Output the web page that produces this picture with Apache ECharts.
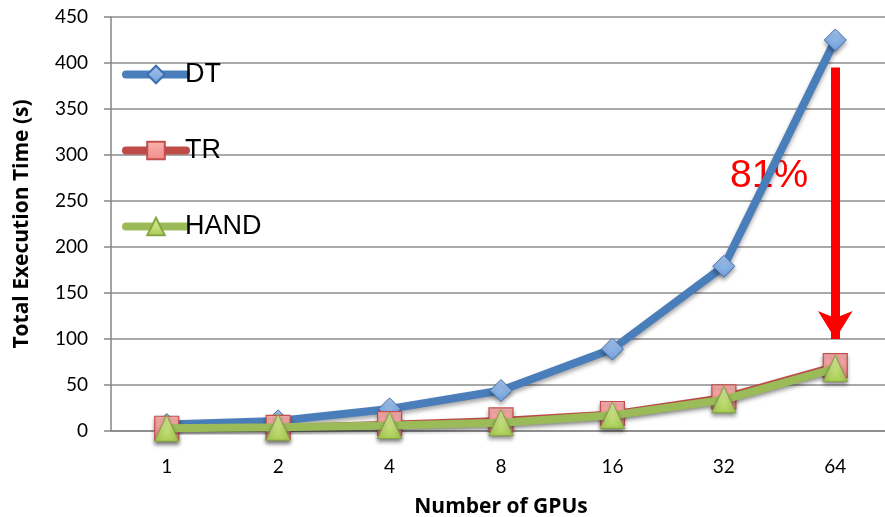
<!DOCTYPE html>
<html>
<head>
<meta charset="utf-8">
<script src="https://cdn.jsdelivr.net/npm/echarts@6/dist/echarts.min.js"></script>
<style>
  html, body { margin: 0; padding: 0; background: #fff; }
  #chart { width: 885px; height: 517px; }
</style>
</head>
<body>
<div id="chart"></div>
<script>
// GPU counts on the x axis
const gpus = ['1', '2', '4', '8', '16', '32', '64'];
// Total execution time in seconds for each strategy
const dtTimes = [7, 11, 24, 44, 89, 179, 425];
const trTimes = [3, 4, 8, 12, 19, 37, 71];
const handTimes = [3, 4, 6, 9, 17, 34, 68];
// Speed-up annotation at 64 GPUs
const gainLabel = '81%';
const arrowFrom = 395;
const arrowTo = 100;

const tickFont = 'Lato, "Open Sans", sans-serif';
const titleFont = '"Open Sans", Lato, sans-serif';
const shadow = { shadowColor: 'rgba(0,0,0,0.35)', shadowBlur: 4, shadowOffsetY: 3 };

const chart = echarts.init(document.getElementById('chart'));
chart.setOption({
  animation: false,
  grid: { left: 111, right: -6, top: 17, bottom: 86, outerBoundsMode: 'none', containLabel: false },
  legend: {
    orient: 'vertical',
    left: 117,
    top: 56,
    itemWidth: 60,
    itemHeight: 22,
    itemGap: 49,
    lineStyle: { width: 8, cap: 'round' },
    textStyle: { fontFamily: '"Liberation Sans", Arial, sans-serif', fontSize: 27, color: '#000', padding: [0, 0, 0, -6] },
    data: ['DT', 'TR', 'HAND']
  },
  xAxis: {
    type: 'category',
    data: gpus,
    boundaryGap: true,
    name: 'Number of GPUs',
    nameLocation: 'middle',
    nameGap: 66,
    nameTextStyle: { fontFamily: titleFont, fontWeight: 'bold', fontSize: 21, color: '#000' },
    axisLine: { lineStyle: { color: '#868686', width: 1.5 } },
    axisTick: { length: 7, lineStyle: { color: '#868686', width: 1.5 } },
    axisLabel: { margin: 26, fontFamily: tickFont, fontSize: 19, color: '#000' }
  },
  yAxis: {
    type: 'value',
    min: 0,
    max: 450,
    interval: 50,
    name: 'Total Execution Time (s)',
    nameLocation: 'middle',
    nameGap: 78,
    nameTextStyle: { fontFamily: titleFont, fontWeight: 'bold', fontSize: 21, color: '#000' },
    axisLine: { show: true, lineStyle: { color: '#868686', width: 1.5 } },
    axisTick: { show: true, length: 7, lineStyle: { color: '#868686', width: 1.5 } },
    splitLine: { lineStyle: { color: '#8c8c8c', width: 1.5 } },
    axisLabel: { margin: 23, fontFamily: tickFont, fontSize: 19, color: '#000' }
  },
  series: [
    {
      name: 'DT',
      type: 'line',
      data: dtTimes,
      symbol: 'diamond',
      symbolSize: 22,
      z: 3,
      lineStyle: Object.assign({ color: '#4a7ebb', width: 8, cap: 'round' }, shadow),
      itemStyle: Object.assign({
        color: new echarts.graphic.LinearGradient(0, 0, 0, 1, [
          { offset: 0, color: '#a7c6ee' },
          { offset: 1, color: '#6f9fdb' }
        ]),
        borderColor: '#3f6fb0',
        borderWidth: 1
      }, shadow),
      markLine: {
        silent: true,
        symbol: ['none', 'arrow'],
        symbolSize: [26, 28],
        label: { show: false },
        lineStyle: { color: '#ff0000', width: 9, type: 'solid', opacity: 1 },
        data: [[{ coord: ['64', arrowFrom] }, { coord: ['64', arrowTo] }]]
      }
    },
    {
      name: 'TR',
      type: 'line',
      data: trTimes,
      symbol: 'rect',
      symbolSize: 24,
      z: 4,
      lineStyle: Object.assign({ color: '#be4b48', width: 6, cap: 'round' }, shadow),
      itemStyle: Object.assign({
        color: new echarts.graphic.LinearGradient(0, 0, 0, 1, [
          { offset: 0, color: '#f9b3b1' },
          { offset: 1, color: '#f08c89' }
        ]),
        borderColor: '#c0504d',
        borderWidth: 1.2
      }, shadow)
    },
    {
      name: 'HAND',
      type: 'line',
      data: handTimes,
      symbol: 'triangle',
      symbolSize: [24, 26],
      z: 5,
      lineStyle: Object.assign({ color: '#9bbb59', width: 8, cap: 'round' }, shadow),
      itemStyle: Object.assign({
        color: new echarts.graphic.LinearGradient(0, 0, 0, 1, [
          { offset: 0, color: '#e3f3a6' },
          { offset: 1, color: '#a9cd52' }
        ]),
        borderColor: '#86a544',
        borderWidth: 1
      }, shadow)
    }
  ],
  graphic: [{
    type: 'text',
    left: 730,
    top: 157,
    style: { text: gainLabel, fill: '#ff0000', fontSize: 39, fontFamily: '"Liberation Sans", Arial, sans-serif' }
  }]
});
</script>
</body>
</html>
